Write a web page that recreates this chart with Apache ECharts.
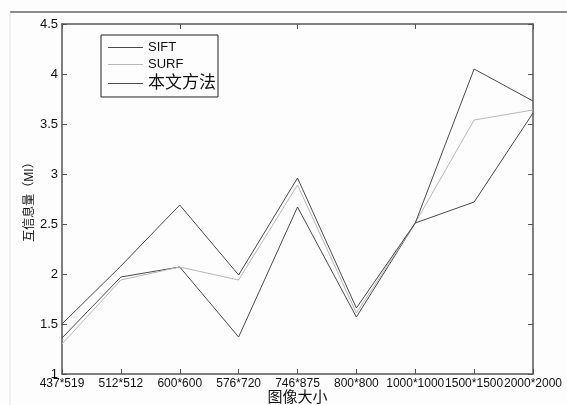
<!DOCTYPE html>
<html>
<head>
<meta charset="utf-8">
<script src="https://cdn.jsdelivr.net/npm/echarts@6/dist/echarts.min.js"></script>
<style>
  html, body { margin: 0; padding: 0; background: #fdfdfd; }
  #chart { width: 567px; height: 405px; }
</style>
</head>
<body>
<div id="chart"></div>
<script>
// 图像尺寸
const sizes = ['437*519', '512*512', '600*600', '576*720', '746*875', '800*800', '1000*1000', '1500*1500', '2000*2000'];
// 各方法互信息量
const siftMI = [1.36, 1.97, 2.07, 1.37, 2.67, 1.57, 2.51, 2.72, 3.61];
const surfMI = [1.30, 1.94, 2.07, 1.94, 2.89, 1.61, 2.51, 3.54, 3.64];
const oursMI = [1.50, 2.08, 2.69, 1.99, 2.96, 1.66, 2.51, 4.05, 3.73];
const yTicks = [1, 1.5, 2, 2.5, 3, 3.5, 4, 4.5];

const font = "'Liberation Sans', Arial, 'Noto Sans CJK SC', sans-serif";
const axisColor = '#555';

const chart = echarts.init(document.getElementById('chart'));

const option = {
  backgroundColor: '#fdfdfd',
  animation: false,
  textStyle: { fontFamily: font },
  graphic: [
    // 扫描页面上的边线
    { type: 'line', shape: { x1: 10, y1: 12, x2: 567, y2: 12 }, style: { stroke: '#666', lineWidth: 1.5 } },
    { type: 'line', shape: { x1: 10, y1: 12, x2: 10, y2: 405 }, style: { stroke: '#e2e2e2', lineWidth: 1 } }
  ],
  grid: { left: 62, right: 34, top: 24, bottom: 31, outerBoundsMode: 'none' },
  legend: {
    orient: 'vertical',
    left: 101,
    top: 35,
    padding: [6, 2, 5, 7],
    itemGap: 4,
    itemWidth: 35,
    itemHeight: 14,
    icon: 'path://M0,6.5L35,6.5L35,7.5L0,7.5Z',
    borderColor: '#222',
    borderWidth: 1,
    backgroundColor: '#fdfdfd',
    formatter: function (name) {
      return /[a-zA-Z]/.test(name) ? '{en|' + name + '}' : '{cn|' + name + '}'
    },
    textStyle: {
      color: '#111',
      fontFamily: font,
      rich: {
        en: { fontSize: 13, color: '#111', fontFamily: font },
        cn: { fontSize: 17, color: '#111', fontFamily: font }
      }
    },
    data: ['SIFT', 'SURF', '本文方法']
  },
  xAxis: [{
    type: 'category',
    data: sizes,
    boundaryGap: false,
    name: '图像大小',
    nameLocation: 'middle',
    nameGap: 16,
    nameMoveOverlap: false,
    nameTextStyle: { fontSize: 15, color: '#111', fontFamily: font },
    axisLine: { lineStyle: { color: axisColor, width: 1.5 } },
    axisTick: { inside: true, length: 5, lineStyle: { color: axisColor } },
    axisLabel: { fontSize: 12, color: '#111', margin: 4, interval: 0, fontFamily: font },
    splitLine: { show: false }
  }, {
    type: 'category',
    data: sizes,
    boundaryGap: false,
    position: 'top',
    axisLine: { lineStyle: { color: axisColor, width: 1.5 } },
    axisTick: { inside: true, length: 5, lineStyle: { color: axisColor } },
    axisLabel: { show: false },
    splitLine: { show: false }
  }],
  yAxis: [{
    type: 'value',
    min: yTicks[0],
    max: yTicks[yTicks.length - 1],
    interval: 0.5,
    name: '互信息量（MI）',
    nameLocation: 'middle',
    nameGap: 26,
    nameMoveOverlap: false,
    nameTextStyle: { fontSize: 12, color: '#111', fontFamily: font },
    axisLine: { show: true, lineStyle: { color: axisColor, width: 1.5 } },
    axisTick: { show: true, inside: true, length: 5, lineStyle: { color: axisColor } },
    axisLabel: { fontSize: 13, color: '#111', margin: 4, fontFamily: font },
    splitLine: { show: false }
  }, {
    type: 'value',
    min: yTicks[0],
    max: yTicks[yTicks.length - 1],
    interval: 0.5,
    position: 'right',
    axisLine: { show: true, lineStyle: { color: axisColor, width: 1.5 } },
    axisTick: { show: true, inside: true, length: 5, lineStyle: { color: axisColor } },
    axisLabel: { show: false },
    splitLine: { show: false }
  }],
  series: [
    { name: 'SIFT', type: 'line', data: siftMI, symbol: 'none', color: '#4a4a4a', lineStyle: { width: 1, color: '#4a4a4a' } },
    { name: 'SURF', type: 'line', data: surfMI, symbol: 'none', color: '#b8b8b8', lineStyle: { width: 1, color: '#b8b8b8' } },
    { name: '本文方法', type: 'line', data: oursMI, symbol: 'none', color: '#4a4a4a', lineStyle: { width: 1, color: '#4a4a4a' } }
  ]
};

chart.setOption(option);
</script>
</body>
</html>
